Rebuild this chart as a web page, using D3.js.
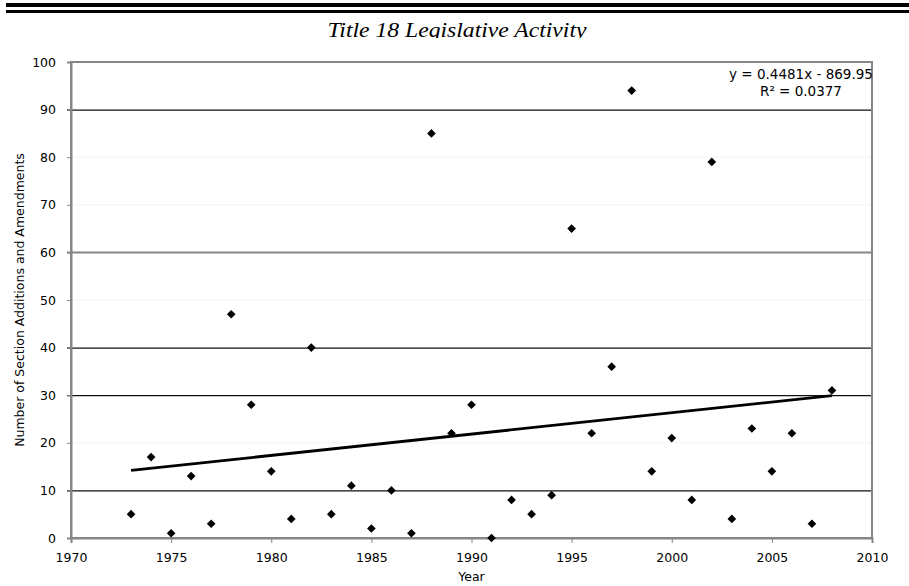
<!DOCTYPE html>
<html>
<head>
<meta charset="utf-8">
<script src="https://cdn.jsdelivr.net/npm/d3@7"></script>
<style>
	body { margin: 0; background: #fff; }
	text { font-family: "DejaVu Sans", Verdana, sans-serif; fill: #000; }
	.title { font-family: "Liberation Serif", "Times New Roman", serif; font-style: italic; }
	.axis path, .axis line { stroke: #868686; }
</style>
</head>
<body>
<svg id="chart"></svg>
<script>
// values
var years = [1973, 1974, 1975, 1976, 1977, 1978, 1979, 1980, 1981, 1982, 1983, 1984,
	1985, 1986, 1987, 1988, 1989, 1990, 1991, 1992, 1993, 1994, 1995, 1996,
	1997, 1998, 1999, 2000, 2001, 2002, 2003, 2004, 2005, 2006, 2007, 2008];
var counts = [5, 17, 1, 13, 3, 47, 28, 14, 4, 40, 5, 11,
	2, 10, 1, 85, 22, 28, 0, 8, 5, 9, 65, 22,
	36, 94, 14, 21, 8, 79, 4, 23, 14, 22, 3, 31];
var xTicks = [1970, 1975, 1980, 1985, 1990, 1995, 2000, 2005, 2010];
var yTicks = [0, 10, 20, 30, 40, 50, 60, 70, 80, 90, 100];
var darkGrid = [10, 30, 40, 90]; // the scan only shows some grid lines
var greyGrid = [60];
var fitLabel = ["y = 0.4481x - 869.95", "R\u00B2 = 0.0377"];

var W = 909, H = 586;
var margin = {top: 62, right: 37, bottom: 48, left: 71},
	width = W - margin.left - margin.right,
	height = H - margin.top - margin.bottom;

var root = d3.select("#chart").attr("width", W).attr("height", H);

// double rule at the top of the page
root.append("rect").attr("x", 6).attr("y", 3).attr("width", W - 6).attr("height", 4);
root.append("rect").attr("x", 6).attr("y", 10).attr("width", W - 6).attr("height", 3);

// title, bottom is cut off in the original
root.append("clipPath").attr("id", "titleClip")
  .append("rect").attr("x", 0).attr("y", 14).attr("width", W).attr("height", 24);
root.append("text")
	.attr("class", "title")
	.attr("clip-path", "url(#titleClip)")
	.attr("x", 457).attr("y", 37)
	.attr("text-anchor", "middle")
	.attr("textLength", 259).attr("lengthAdjust", "spacingAndGlyphs")
	.style("font-size", "21px")
	.text("Title 18 Legislative Activity");

var svg = root.append("g")
	.attr("transform", "translate(" + margin.left + "," + margin.top + ")");

var x = d3.scaleLinear().domain([1970, 2010]).range([0, width]);
var y = d3.scaleLinear().domain([0, 100]).range([height, 0]);

// faint grid, then the visible ones
svg.append("g").selectAll("line")
	.data(yTicks.filter(function (d) { return d > 0 && d < 100 && darkGrid.indexOf(d) < 0 && greyGrid.indexOf(d) < 0; }))
	.enter().append("line")
		.attr("x1", 0).attr("x2", width)
		.attr("y1", function (d) { return y(d); }).attr("y2", function (d) { return y(d); })
		.attr("stroke", "#f3f3f3");
svg.append("g").selectAll("line")
	.data(darkGrid).enter().append("line")
		.attr("x1", -4).attr("x2", width)
		.attr("y1", function (d) { return y(d) + 0.5; }).attr("y2", function (d) { return y(d) + 0.5; })
		.attr("stroke", "#111").attr("stroke-width", 1.2);
svg.append("g").selectAll("line")
	.data(greyGrid).enter().append("line")
		.attr("x1", -4).attr("x2", width)
		.attr("y1", function (d) { return y(d); }).attr("y2", function (d) { return y(d); })
		.attr("stroke", "#868686").attr("stroke-width", 2);

// plot frame
svg.append("rect")
	.attr("x", 0).attr("y", 0).attr("width", width).attr("height", height)
	.attr("fill", "none").attr("stroke", "#868686").attr("stroke-width", 2);

var xAxis = svg.append("g")
	.attr("class", "axis")
	.attr("transform", "translate(0," + height + ")")
	.call(d3.axisBottom(x).tickValues(xTicks).tickSize(5).tickPadding(10).tickFormat(d3.format("d")));
xAxis.select(".domain").attr("stroke-width", 2);
xAxis.selectAll("text").style("font-size", "12.5px");

var yAxis = svg.append("g")
	.attr("class", "axis")
	.call(d3.axisLeft(y).tickValues(yTicks).tickSize(4).tickPadding(11));
yAxis.select(".domain").attr("stroke-width", 2);
yAxis.selectAll("text").style("font-size", "12.5px");

svg.append("text")
	.attr("x", width / 2).attr("y", height + 43)
	.attr("text-anchor", "middle")
	.style("font-size", "12.5px")
	.text("Year");

svg.append("text")
	.attr("transform", "translate(" + (-47) + "," + (height / 2) + ") rotate(-90)")
	.attr("text-anchor", "middle")
	.style("font-size", "12.5px")
	.text("Number of Section Additions and Amendments");

// least squares fit over the points
var mx = d3.mean(years), my = d3.mean(counts);
var sxy = d3.sum(years, function (d, i) { return (d - mx) * (counts[i] - my); });
var sxx = d3.sum(years, function (d) { return (d - mx) * (d - mx); });
var slope = sxy / sxx, icpt = my - slope * mx;
var ends = d3.extent(years);

svg.append("line")
	.attr("x1", x(ends[0])).attr("y1", y(slope * ends[0] + icpt))
	.attr("x2", x(ends[1])).attr("y2", y(slope * ends[1] + icpt))
	.attr("stroke", "#000").attr("stroke-width", 2.8);

svg.selectAll(".pt")
	.data(years).enter().append("path")
		.attr("class", "pt")
		.attr("d", d3.symbol().type(d3.symbolDiamond2).size(48))
		.attr("transform", function (d, i) { return "translate(" + x(d) + "," + y(counts[i]) + ")"; })
		.attr("fill", "#000");

svg.selectAll(".fit")
	.data(fitLabel).enter().append("text")
		.attr("class", "fit")
		.attr("x", width - 71).attr("y", function (d, i) { return 17 + i * 17; })
		.attr("text-anchor", "middle")
		.style("font-size", "13.5px")
		.text(function (d) { return d; });
</script>
</body>
</html>
